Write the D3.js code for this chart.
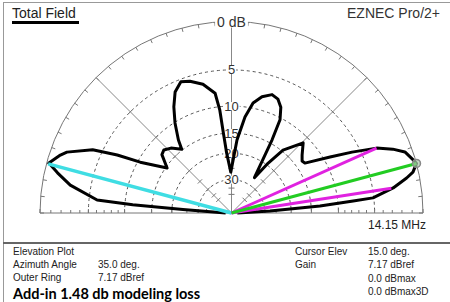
<!DOCTYPE html>
<html>
<head>
<meta charset="utf-8">
<script src="https://cdn.jsdelivr.net/npm/d3@7"></script>
<style>
  body { margin: 0; background: #fff; }
  svg { display: block; font-family: "Liberation Sans", Arial, sans-serif; }
</style>
</head>
<body>
<script>
var W = 450, H = 302;
var CX = 231.5, CY = 213, R = 191.5;

// elevation pattern, degrees / dB (ARRL log scale)
var patElev = [0, 3, 4.5, 5.6, 6.1, 8.8, 11.3, 12.7, 15, 16.3, 19.4, 21.6, 24.1, 26.8, 29.6,
  34.2, 36.4, 39.4, 44.4, 50.7, 54, 57, 61, 62.5, 65, 67.8, 71.1, 75.3, 78.9, 82, 85.7, 91,
  94.6, 95.8, 96.5, 97.8, 102.5, 107.5, 111.1, 115, 118.5, 122.1, 126, 128, 133, 137, 140,
  145.1, 150.9, 153.1, 155.5, 159.7, 161.3, 164.7, 167, 170.2, 174.5, 175.2, 176, 180];
var patDb = [-60, -27.5, -13.2, -7.7, -5.1, -2.7, -1.2, -0.5, 0, -0.2, -0.7, -1.7, -3.2, -6.0, -9.0,
  -13.2, -13.4, -12.7, -11.1, -14.7, -19.9, -26, -14.2, -10.3, -8.5, -7.6, -7.3, -8.0, -9.2, -11.7, -16.5, -26.5,
  -19.9, -14.9, -10.5, -7.9, -6.4, -5.6, -5.3, -6.2, -7.9, -10.1, -12.9, -14.8, -13.2, -12.5, -12.8,
  -15.3, -10.4, -6.9, -3.9, -1.5, -1.0, -0.2, -1.2, -2.7, -6.0, -11.3, -23.5, -60];

// cursor / beamwidth lines
var lineElev = [165, 24.1, 8.8, 15];
var lineDb = [-0.15, -3.2, -2.9, 0];
var lineColor = ["#3fdde3", "#e022e0", "#e022e0", "#22cc22"];

var ringDb = [-5, -10, -15, -20, -30];
var ringLabel = ["5", "10", "15", "20", "30"];
var spokeTickDb = [-5, -10, -15, -20, -25, -30, -35, -40];
var baseTickDb = [0, -1, -2, -3, -4, -5, -6, -7, -8, -9, -10, -15, -20, -25, -30, -35];

var infoLeft = [["Elevation Plot", ""], ["Azimuth Angle", "35.0 deg."], ["Outer Ring", "7.17 dBref"]];
var infoRight = [["Cursor Elev", "15.0 deg."], ["Gain", "7.17 dBref"], ["", "0.0 dBmax"], ["", "0.0 dBmax3D"]];

var rLog = d3.scaleLog().domain([R * Math.pow(0.89, 30), R]).range([-60, 0]);
function rad(db) { return rLog.invert(db); }
var ang = d3.scaleLinear().domain([0, 180]).range([Math.PI / 2, -Math.PI / 2]);

var svg = d3.select("body").append("svg").attr("width", W).attr("height", H);

// frame
svg.append("line").attr("x1", 3.5).attr("y1", 2).attr("x2", 3.5).attr("y2", H).attr("stroke", "#999");
svg.append("line").attr("x1", 3).attr("y1", 2.5).attr("x2", W).attr("y2", 2.5).attr("stroke", "#999");
svg.append("line").attr("x1", 3).attr("y1", 243).attr("x2", W).attr("y2", 243).attr("stroke", "#666").attr("stroke-width", 2);

var g = svg.append("g").attr("transform", "translate(" + CX + "," + CY + ")");

// dashed rings
ringDb.forEach(function(db) {
  var p = d3.path();
  p.arc(0, 0, rad(db), Math.PI, 2 * Math.PI);
  g.append("path").attr("d", p.toString()).attr("fill", "none")
    .attr("stroke", "#555").attr("stroke-dasharray", "3,3");
});

// outer ring
var po = d3.path();
po.arc(0, 0, R, Math.PI, 2 * Math.PI);
g.append("path").attr("d", po.toString()).attr("fill", "none").attr("stroke", "#777");
d3.range(0, 181, 5).forEach(function(e) {
  var a = ang(e);
  var p1 = d3.pointRadial(a, R), p2 = d3.pointRadial(a, R - 4);
  g.append("line").attr("x1", p1[0]).attr("y1", p1[1]).attr("x2", p2[0]).attr("y2", p2[1]).attr("stroke", "#777");
});

// spokes at 45, 90, 135 with ticks
[45, 90, 135].forEach(function(e) {
  var a = ang(e);
  var end = d3.pointRadial(a, R);
  g.append("line").attr("x1", 0).attr("y1", 0).attr("x2", end[0]).attr("y2", end[1]).attr("stroke", "#888");
  spokeTickDb.forEach(function(db) {
    var c = d3.pointRadial(a, rad(db));
    var px = Math.cos(a) * 3, py = Math.sin(a) * 3;
    g.append("line").attr("x1", c[0] - px).attr("y1", c[1] - py).attr("x2", c[0] + px).attr("y2", c[1] + py).attr("stroke", "#777");
  });
});

// baseline
g.append("line").attr("x1", -R).attr("y1", 0).attr("x2", R).attr("y2", 0).attr("stroke", "#777");
baseTickDb.forEach(function(db) {
  [-1, 1].forEach(function(s) {
    var x = s * rad(db);
    g.append("line").attr("x1", x).attr("y1", 0).attr("x2", x).attr("y2", db % 5 === 0 ? -4 : -3).attr("stroke", "#777");
  });
});

// ring labels
ringDb.forEach(function(db, i) {
  var t = g.append("text").attr("x", 0).attr("y", -rad(db) + 4.5).attr("text-anchor", "middle")
    .attr("font-size", 13).attr("fill", "#333").text(ringLabel[i]);
  var b = t.node().getBBox();
  g.insert("rect", "text").attr("x", b.x - 1).attr("y", -rad(db) - 4).attr("width", b.width + 2).attr("height", 8).attr("fill", "#fff");
});
var t0 = g.append("text").attr("x", 0).attr("y", -R + 5).attr("text-anchor", "middle")
  .attr("font-size", 14).attr("fill", "#333").text("0 dB");
var b0 = t0.node().getBBox();
g.insert("rect", "text").attr("x", b0.x - 2).attr("y", -R - 6).attr("width", b0.width + 4).attr("height", 12).attr("fill", "#fff");

// pattern
var pat = patElev.map(function(e, i) { return [e, patDb[i]]; });
var radial = d3.lineRadial()
  .angle(function(d) { return ang(d[0]); })
  .radius(function(d) { return rad(d[1]); });
g.append("path").attr("d", radial(pat)).attr("fill", "none").attr("stroke", "#000")
  .attr("stroke-width", 3).attr("stroke-linejoin", "round");

// colored lines
lineElev.forEach(function(e, i) {
  var p = d3.pointRadial(ang(e), rad(lineDb[i]));
  g.append("line").attr("x1", 0).attr("y1", 0).attr("x2", p[0]).attr("y2", p[1])
    .attr("stroke", lineColor[i]).attr("stroke-width", i === 0 ? 3.5 : 3);
});
var cur = d3.pointRadial(ang(15), R);
g.append("circle").attr("cx", cur[0]).attr("cy", cur[1]).attr("r", 4)
  .attr("fill", "#a8c8a8").attr("fill-opacity", 0.7).attr("stroke", "#888").attr("stroke-width", 1.5);

// titles
svg.append("text").attr("x", 12).attr("y", 18).attr("font-size", 14).attr("fill", "#222").text("Total Field");
svg.append("rect").attr("x", 12).attr("y", 21).attr("width", 67).attr("height", 3).attr("fill", "#000");
svg.append("text").attr("x", 440).attr("y", 18).attr("text-anchor", "end").attr("font-size", 14).attr("fill", "#333").text("EZNEC Pro/2+");
svg.append("text").attr("x", 426).attr("y", 229).attr("text-anchor", "end").attr("font-size", 12).attr("fill", "#222").text("14.15 MHz");

// info block
infoLeft.forEach(function(r, i) {
  var y = 254.5 + i * 13.3;
  svg.append("text").attr("x", 13).attr("y", y).attr("font-size", 10).attr("fill", "#222").text(r[0]);
  svg.append("text").attr("x", 98).attr("y", y).attr("font-size", 10).attr("fill", "#222").text(r[1]);
});
infoRight.forEach(function(r, i) {
  var y = 255 + i * 13.3;
  svg.append("text").attr("x", 295).attr("y", y).attr("font-size", 10).attr("fill", "#222").text(r[0]);
  svg.append("text").attr("x", 368).attr("y", y).attr("font-size", 10).attr("fill", "#222").text(r[1]);
});
svg.append("text").attr("x", 13).attr("y", 298.5).attr("font-family", "Lato, 'Open Sans', sans-serif")
  .attr("font-weight", "bold").attr("font-size", 14.5).attr("fill", "#000").text("Add-in 1.48 db modeling loss");
</script>
</body>
</html>
